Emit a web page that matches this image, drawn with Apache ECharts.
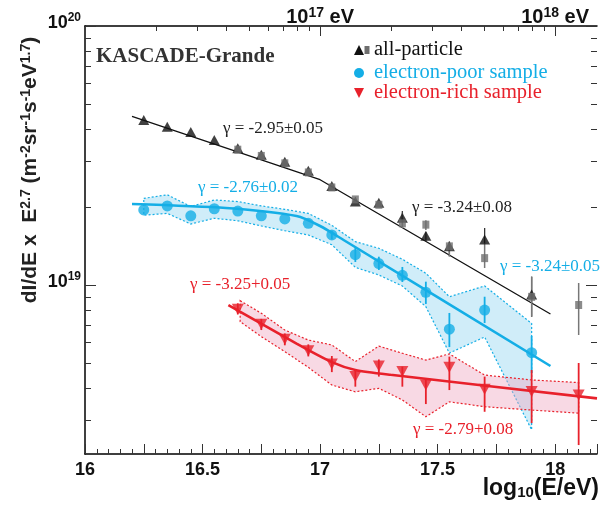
<!DOCTYPE html>
<html><head><meta charset="utf-8">
<script src="https://cdn.jsdelivr.net/npm/echarts@6/dist/echarts.min.js"></script>
<style>html,body{margin:0;padding:0;background:#fff}#c{width:600px;height:510px}</style>
</head><body><div id="c"></div>
<script>
// ---------- data (log10(E/eV), flux * E^2.7) ----------
const allTriE  = [16.25,16.35,16.45,16.55,16.65,16.75,16.85,16.95,17.05,17.15,17.25,17.35,17.45,17.55,17.7,17.9];
const allTriV  = [4.34e19,4.08e19,3.90e19,3.63e19,3.37e19,3.18e19,2.99e19,2.76e19,2.41e19,2.10e19,2.08e19,1.82e19,1.55e19,1.41e19,1.50e19,9.2e18];
const allTriLo = [null,null,null,null,null,null,null,null,null,null,null,1.78e19,1.47e19,1.29e19,1.45e19,7.54e18];
const allTriHi = [null,null,null,null,null,null,null,null,null,null,null,1.93e19,1.60e19,1.47e19,1.66e19,1.077e19];

const allSqE  = [16.65,16.75,16.85,16.95,17.05,17.15,17.25,17.35,17.45,17.55,17.7,17.9,18.1];
const allSqV  = [3.33e19,3.15e19,2.95e19,2.72e19,2.38e19,2.14e19,2.04e19,1.73e19,1.71e19,1.41e19,1.27e19,9.0e18,8.37e18];
const allSqLo = [null,null,null,null,null,null,null,1.66e19,1.63e19,1.29e19,1.163e19,7.54e18,6.41e18];
const allSqHi = [null,null,null,null,null,null,null,1.90e19,1.78e19,1.47e19,1.453e19,1.077e19,1.018e19];

const poorE  = [16.25,16.35,16.45,16.55,16.65,16.75,16.85,16.95,17.05,17.15,17.25,17.35,17.45,17.55,17.7,17.9];
const poorV  = [1.95e19,2.02e19,1.85e19,1.97e19,1.93e19,1.85e19,1.80e19,1.73e19,1.56e19,1.31e19,1.21e19,1.09e19,9.37e18,6.75e18,8.0e18,5.48e18];
const poorLo = [null,null,null,null,null,null,null,null,1.50e19,1.227e19,1.143e19,1.027e19,8.45e18,5.76e18,7.13e18,4.57e18];
const poorHi = [null,null,null,null,null,null,null,null,1.62e19,1.40e19,1.286e19,1.174e19,1.03e19,7.80e18,9.01e18,6.35e18];
const poorBandE   = [16.25,16.35,16.45,16.55,16.65,16.75,16.85,16.95,17.05,17.15,17.25,17.35,17.45,17.55,17.7,17.9];
const poorBandUp  = [2.16e19,2.23e19,2.01e19,2.13e19,2.10e19,2.02e19,1.96e19,1.89e19,1.70e19,1.47e19,1.386e19,1.257e19,1.11e19,9.01e18,9.91e18,7.11e18];
const poorBandLow = [1.86e19,1.89e19,1.72e19,1.81e19,1.77e19,1.69e19,1.62e19,1.56e19,1.43e19,1.17e19,1.093e19,9.91e18,8.25e18,5.46e18,6.30e18,2.76e18];

const richE  = [16.65,16.75,16.85,16.95,17.05,17.15,17.25,17.35,17.45,17.55,17.7,17.9,18.1];
const richV  = [8.06e18,7.05e18,6.17e18,5.58e18,4.95e18,4.43e18,4.87e18,4.63e18,4.11e18,4.81e18,3.96e18,3.88e18,3.76e18];
const richLo = [7.7e18,6.7e18,5.85e18,5.3e18,4.61e18,4.05e18,4.43e18,4.05e18,3.47e18,3.93e18,3.24e18,2.93e18,2.41e18];
const richHi = [8.5e18,7.4e18,6.5e18,5.9e18,5.32e18,4.70e18,5.16e18,4.84e18,4.30e18,5.29e18,4.43e18,4.70e18,5.00e18];
const richBandE   = [16.66,16.75,16.85,16.95,17.05,17.15,17.25,17.35,17.45,17.55,17.7,17.9,18.1];
const richBandUp  = [8.70e18,7.78e18,6.70e18,6.13e18,5.87e18,5.06e18,5.81e18,5.45e18,5.13e18,5.42e18,4.49e18,4.30e18,4.20e18];
const richBandLow = [7.22e18,6.32e18,5.53e18,4.81e18,4.11e18,3.87e18,3.99e18,3.60e18,3.10e18,3.54e18,3.39e18,3.29e18,3.20e18];

const allFitE  = [16.2,17.0,17.98];
const allFitV  = [4.48e19,2.55e19,7.73e18];
const poorFitE = [16.2,16.6,16.9,17.0,17.1,17.98];
const poorFitV = [2.055e19,1.983e19,1.847e19,1.690e19,1.492e19,4.867e18];
const richFitE = [16.61,16.9,17.05,17.15,17.3,18.178];
const richFitV = [8.37e18,5.94e18,5.04e18,4.70e18,4.50e18,3.65e18];

// ---------- axes / ticks ----------
const xMin = 16, xMax = 18.178;
const yMin = 2.226e18, yMax = 1e20;
const xTickLabels = [16, 16.5, 17, 17.5, 18];
const yMajorTicks = [1e19, 1e20];
const yMinorTicks = [3e18,4e18,5e18,6e18,7e18,8e18,9e18,2e19,3e19,4e19,5e19,6e19,7e19,8e19,9e19];
const topMajorEnergies = [1e17, 1e18];
const topMinorEnergies = [2e16,3e16,4e16,5e16,6e16,7e16,8e16,9e16,2e17,3e17,4e17,5e17,6e17,7e17,8e17,9e17];

const BLUE = '#14aee6', RED = '#e8212b', GRAY = '#6e6e6e', BLK = '#111';
const SANS = '"Liberation Sans", Arial, sans-serif';
const SERIF = '"Liberation Serif", "Times New Roman", serif';

const lg = v => Math.log10(v);
const yLgMin = lg(yMin), yLgMax = lg(yMax);

function errSeries(xs, lo, hi, color, w) {
  const d = [];
  xs.forEach((x, i) => { if (lo[i] != null) d.push([x, lo[i], hi[i]]); });
  return {
    type: 'custom', xAxisIndex: 0, yAxisIndex: 0, z: 4, silent: true,
    encode: { x: 0, y: [1, 2] }, data: d,
    renderItem: (p, api) => {
      const a = api.coord([api.value(0), api.value(1)]);
      const b = api.coord([api.value(0), api.value(2)]);
      return { type: 'line', shape: { x1: a[0], y1: a[1], x2: b[0], y2: b[1] },
        style: { stroke: color, lineWidth: w } };
    }
  };
}
function bandSeries(xs, up, low, fill, stroke) {
  return {
    type: 'custom', xAxisIndex: 0, yAxisIndex: 0, z: 1, silent: true,
    encode: { x: 0, y: [1, 2] }, data: xs.map((x, i) => [x, up[i], low[i]]),
    renderItem: (p, api) => {
      if (p.dataIndex !== 0) return null;
      const pts = [];
      xs.forEach((x, i) => pts.push(api.coord([x, up[i]])));
      for (let i = xs.length - 1; i >= 0; i--) pts.push(api.coord([xs[i], low[i]]));
      return { type: 'polygon', shape: { points: pts },
        style: { fill: fill, stroke: stroke, lineWidth: 1.2, lineDash: [2, 2] } };
    }
  };
}
const pairs = (xs, vs) => xs.map((x, i) => [x, vs[i]]);

const supRich = {
  b: { fontFamily: SANS, fontWeight: 'bold', fontSize: 18, color: '#111', lineHeight: 22 },
  s: { fontFamily: SANS, fontWeight: 'bold', fontSize: 12, color: '#111', verticalAlign: 'top', lineHeight: 12 }
};

const chart = echarts.init(document.getElementById('c'), null, { renderer: 'canvas' });
const option = {
  animation: false,
  backgroundColor: '#fff',
  grid: { left: 85, right: 0, top: 26, bottom: 56, containLabel: false },
  xAxis: [
    { type: 'value', position: 'bottom', min: xMin, max: xMax, interval: 0.25,
      axisLine: { show: true, onZero: false, lineStyle: { color: '#000', width: 1.5 } },
      axisTick: { show: true, inside: true, length: 10, lineStyle: { color: '#333', width: 1 } },
      minorTick: { show: true, splitNumber: 5, length: 5, lineStyle: { color: '#333', width: 1 } },
      splitLine: { show: false },
      axisLabel: { margin: 7, fontFamily: SANS, fontWeight: 'bold', fontSize: 18, color: '#111',
        formatter: v => (xTickLabels.some(t => Math.abs(t - v) < 1e-6) ? String(v) : '') } },
    { type: 'value', position: 'top', min: xMin, max: xMax,
      axisLine: { show: true, onZero: false, lineStyle: { color: '#000', width: 1.5 } },
      axisTick: { show: true, inside: true, length: 5, customValues: topMinorEnergies.map(lg), lineStyle: { color: '#333' } },
      axisLabel: { show: false }, splitLine: { show: false } },
    { type: 'value', position: 'top', min: xMin, max: xMax,
      axisLine: { show: false },
      axisTick: { show: true, inside: true, length: 10, customValues: topMajorEnergies.map(lg), lineStyle: { color: '#333' } },
      axisLabel: { show: true, customValues: topMajorEnergies.map(lg), margin: -2,
        formatter: v => '{b|10}{s|' + Math.round(v) + '}{b| eV}',
        rich: { b: Object.assign({}, supRich.b, { fontSize: 20 }), s: Object.assign({}, supRich.s, { fontSize: 14 }) } },
      splitLine: { show: false } }
  ],
  yAxis: [
    { type: 'log', position: 'left', min: yMin, max: yMax,
      axisLine: { show: true, onZero: false, lineStyle: { color: '#000', width: 1.5 } },
      axisTick: { show: false }, axisLabel: { show: false }, splitLine: { show: false }, minorTick: { show: false } },
    { type: 'value', position: 'left', min: yLgMin, max: yLgMax,
      axisLine: { show: false },
      axisTick: { show: true, inside: true, length: 6, customValues: yMinorTicks.map(lg), lineStyle: { color: '#333' } },
      axisLabel: { show: false }, splitLine: { show: false } },
    { type: 'value', position: 'left', min: yLgMin, max: yLgMax,
      axisLine: { show: false },
      axisTick: { show: true, inside: true, length: 11, customValues: yMajorTicks.map(lg), lineStyle: { color: '#333' } },
      axisLabel: { show: true, customValues: yMajorTicks.map(lg), margin: 4, padding: [0, 0, 6, 0],
        formatter: v => '{b|10}{s|' + Math.round(v) + '}', rich: supRich },
      splitLine: { show: false } },
    { type: 'value', position: 'right', min: yLgMin, max: yLgMax,
      axisLine: { show: false },
      axisTick: { show: true, inside: true, length: 6, customValues: yMinorTicks.map(lg), lineStyle: { color: '#333' } },
      axisLabel: { show: false }, splitLine: { show: false } },
    { type: 'value', position: 'right', min: yLgMin, max: yLgMax,
      axisLine: { show: false },
      axisTick: { show: true, inside: true, length: 11, customValues: yMajorTicks.map(lg), lineStyle: { color: '#333' } },
      axisLabel: { show: false }, splitLine: { show: false } }
  ],
  series: [
    bandSeries(poorBandE, poorBandUp, poorBandLow, 'rgba(150,214,242,0.45)', BLUE),
    bandSeries(richBandE, richBandUp, richBandLow, 'rgba(240,170,195,0.45)', RED),
    { type: 'line', name: 'all fit', data: pairs(allFitE, allFitV), showSymbol: false, z: 3, silent: true,
      lineStyle: { color: BLK, width: 1.3 } },
    { type: 'line', name: 'poor fit', data: pairs(poorFitE, poorFitV), showSymbol: false, smooth: 0.25, z: 3, silent: true,
      lineStyle: { color: BLUE, width: 2.6 } },
    { type: 'line', name: 'rich fit', data: pairs(richFitE, richFitV), showSymbol: false, smooth: 0.25, z: 3, silent: true,
      lineStyle: { color: RED, width: 2.6 } },
    errSeries(allTriE, allTriLo, allTriHi, '#333', 1.3),
    errSeries(allSqE, allSqLo, allSqHi, '#777', 1.5),
    errSeries(poorE, poorLo, poorHi, BLUE, 1.8),
    errSeries(richE, richLo, richHi, RED, 1.8),
    { type: 'scatter', name: 'all-particle', data: pairs(allTriE, allTriV), symbol: 'triangle', symbolSize: [11, 10], z: 5,
      itemStyle: { color: BLK } },
    { type: 'scatter', name: 'all-particle sq', data: pairs(allSqE, allSqV), symbol: 'rect', symbolSize: [7, 8], z: 6,
      itemStyle: { color: GRAY } },
    { type: 'scatter', name: 'electron-poor sample', data: pairs(poorE, poorV), symbol: 'circle', symbolSize: 11, z: 5,
      itemStyle: { color: BLUE } },
    { type: 'scatter', name: 'electron-rich sample', data: pairs(richE, richV), symbol: 'triangle', symbolRotate: 180,
      symbolSize: [12, 11], z: 5, itemStyle: { color: RED } }
  ],
  graphic: [
    { type: 'text', x: 30, y: 170, rotation: Math.PI / 2, z: 10,
      style: { text: 'dI/dE x  E{s|2.7} (m{s|-2}sr{s|-1}s{s|-1}eV{s|1.7})', align: 'center', verticalAlign: 'middle',
        fill: '#222', font: 'bold 21px ' + SANS,
        rich: { s: { fontFamily: SANS, fontWeight: 'bold', fontSize: 14, fill: '#222', verticalAlign: 'top', lineHeight: 12 } } } },
    { type: 'text', x: 599, y: 489, z: 10,
      style: { text: 'log{u|10}(E/eV)', align: 'right', verticalAlign: 'middle', fill: '#111', font: 'bold 23px ' + SANS,
        rich: { u: { fontFamily: SANS, fontWeight: 'bold', fontSize: 15, fill: '#111', verticalAlign: 'bottom', lineHeight: 12 } } } },
    { type: 'text', x: 96, y: 57, z: 10,
      style: { text: 'KASCADE-Grande', verticalAlign: 'middle', fill: '#333', font: 'bold 21px ' + SERIF } },
    // legend
    { type: 'polygon', z: 10, shape: { points: [[354, 55], [364, 55], [359, 45]] }, style: { fill: BLK } },
    { type: 'rect', z: 10, shape: { x: 364.5, y: 46, width: 5, height: 8 }, style: { fill: GRAY } },
    { type: 'text', x: 374, y: 50, z: 10, style: { text: 'all-particle', verticalAlign: 'middle', fill: '#111', font: '20.5px ' + SERIF } },
    { type: 'circle', z: 10, shape: { cx: 359, cy: 73, r: 5 }, style: { fill: BLUE } },
    { type: 'text', x: 374, y: 73, z: 10, style: { text: 'electron-poor sample', verticalAlign: 'middle', fill: BLUE, font: '20.5px ' + SERIF } },
    { type: 'polygon', z: 10, shape: { points: [[354, 88], [364, 88], [359, 98]] }, style: { fill: RED } },
    { type: 'text', x: 374, y: 93, z: 10, style: { text: 'electron-rich sample', verticalAlign: 'middle', fill: RED, font: '20.5px ' + SERIF } },
    // slope annotations
    { type: 'text', x: 223, y: 129, z: 10, style: { text: 'γ = -2.95±0.05', verticalAlign: 'middle', fill: '#222', font: '17px ' + SERIF } },
    { type: 'text', x: 198, y: 188, z: 10, style: { text: 'γ = -2.76±0.02', verticalAlign: 'middle', fill: BLUE, font: '17px ' + SERIF } },
    { type: 'text', x: 412, y: 208, z: 10, style: { text: 'γ = -3.24±0.08', verticalAlign: 'middle', fill: '#222', font: '17px ' + SERIF } },
    { type: 'text', x: 500, y: 267, z: 10, style: { text: 'γ = -3.24±0.05', verticalAlign: 'middle', fill: BLUE, font: '17px ' + SERIF } },
    { type: 'text', x: 190, y: 285, z: 10, style: { text: 'γ = -3.25+0.05', verticalAlign: 'middle', fill: RED, font: '17px ' + SERIF } },
    { type: 'text', x: 413, y: 430, z: 10, style: { text: 'γ = -2.79+0.08', verticalAlign: 'middle', fill: RED, font: '17px ' + SERIF } }
  ]
};
chart.setOption(option);
</script></body></html>
